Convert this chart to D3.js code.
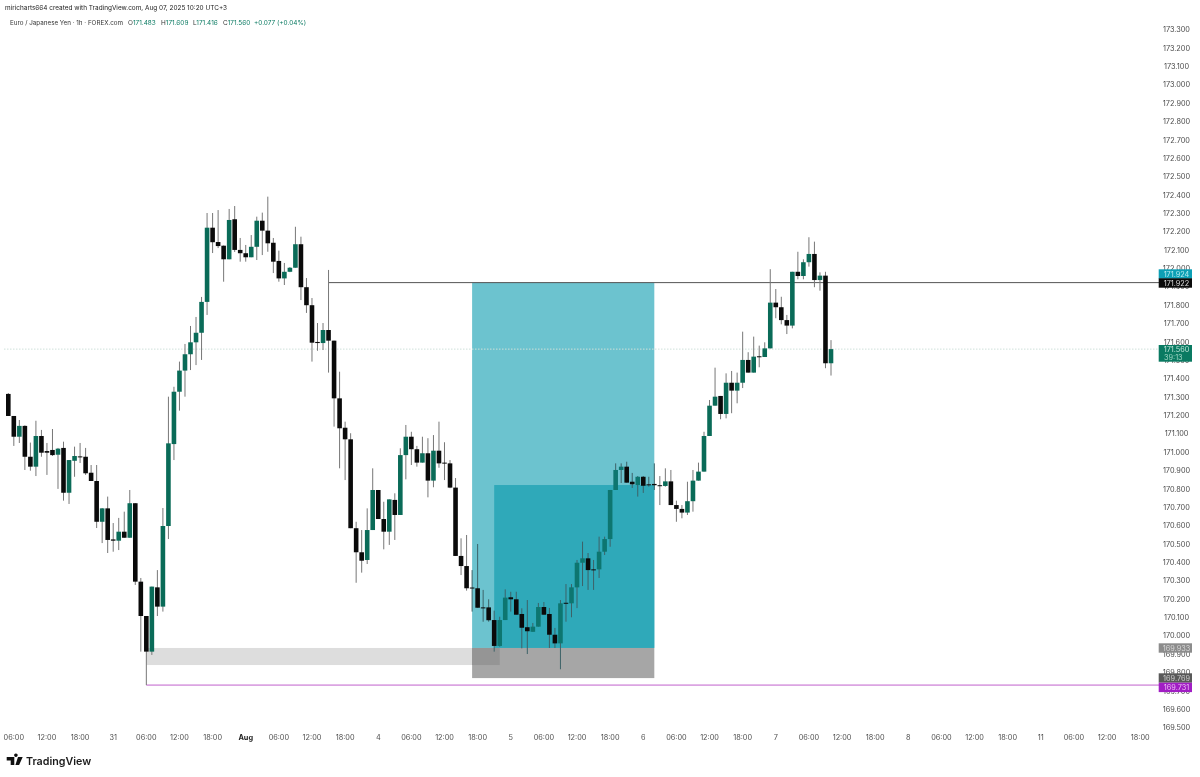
<!DOCTYPE html>
<html><head><meta charset="utf-8">
<script src="https://cdn.jsdelivr.net/npm/d3@7"></script>
<style>html,body{margin:0;background:#fff}svg{display:block;filter:blur(0.4px)}text{font-family:Inter,"Liberation Sans",sans-serif}</style>
</head><body><svg id="c" width="1200" height="777"></svg>
<script>
const opens=[171.316,171.196,171.083,171.142,170.974,170.920,171.087,171.005,171.011,170.985,
171.022,170.778,170.952,170.976,170.974,170.887,170.842,170.620,170.693,170.524,
170.517,170.566,170.533,170.721,170.294,170.107,169.913,170.263,170.158,170.597,
171.043,171.328,171.443,171.532,171.597,171.649,171.817,172.221,172.143,172.123,
172.049,172.267,172.100,172.082,172.060,172.117,172.259,172.205,172.139,172.040,
171.945,171.981,172.003,172.131,171.897,171.799,171.599,171.593,171.664,171.606,
171.292,171.132,171.069,170.585,170.454,170.412,170.575,170.793,170.635,170.566,
170.739,170.657,170.983,171.083,171.015,170.942,170.993,170.844,171.007,170.942,
170.938,170.806,170.434,170.379,170.262,170.258,170.154,170.154,170.085,169.944,
170.085,170.209,170.198,170.118,170.046,170.021,170.049,170.156,170.118,170.005,
169.958,170.179,170.176,170.263,170.397,170.421,170.361,170.361,170.457,170.526,
170.793,170.902,170.920,170.838,170.820,170.865,170.824,170.826,170.819,170.815,
170.840,170.711,170.690,170.670,170.732,170.844,170.893,171.087,171.252,171.305,
171.207,171.377,171.334,171.377,171.501,171.432,171.521,171.517,171.564,171.813,
171.788,171.718,171.688,171.981,171.958,172.033,172.078,171.936,171.960,171.483];
const highs=[171.321,171.196,171.174,171.145,171.051,171.170,171.120,171.049,171.125,171.022,
171.056,170.956,171.029,171.049,171.022,170.929,170.929,170.695,170.757,170.613,
170.641,170.675,170.793,170.722,170.314,170.107,170.267,170.357,170.695,171.301,
171.355,171.492,171.588,171.686,171.735,171.844,172.301,172.301,172.317,172.124,
172.323,172.339,172.165,172.127,172.181,172.281,172.303,172.390,172.165,172.096,
172.029,172.007,172.226,172.172,171.947,171.838,171.702,171.702,171.991,171.606,
171.437,171.165,171.102,170.620,170.575,170.693,170.911,170.793,170.729,170.742,
170.775,171.020,171.147,171.110,171.033,171.083,171.075,171.092,171.165,171.053,
170.956,170.858,170.530,170.548,170.357,170.499,170.249,170.198,170.136,170.103,
170.252,170.239,170.239,170.149,170.194,170.069,170.178,170.183,170.151,170.042,
170.194,170.281,170.281,170.412,170.512,170.450,170.412,170.539,170.539,170.793,
170.938,170.938,170.947,170.886,170.869,170.869,170.865,170.938,170.869,170.911,
170.902,170.735,170.711,170.838,170.902,170.942,171.110,171.283,171.459,171.305,
171.428,171.441,171.432,171.655,171.543,171.628,171.579,171.597,171.995,171.887,
171.845,171.746,171.981,172.090,172.049,172.169,172.145,171.978,171.981,171.609];
const lows=[171.196,171.033,171.049,170.902,170.898,170.869,170.974,170.875,170.978,170.799,
170.735,170.717,170.865,170.940,170.875,170.842,170.586,170.504,170.450,170.457,
170.466,170.533,170.533,170.276,169.913,169.913,169.895,170.107,170.131,170.526,
170.956,171.225,171.301,171.446,171.473,171.501,171.746,172.083,172.110,171.927,
172.049,172.089,172.036,172.036,172.060,172.045,172.072,172.090,171.974,171.927,
171.909,171.979,172.003,171.827,171.757,171.492,171.551,171.555,171.432,171.138,
170.911,170.847,170.585,170.288,170.343,170.390,170.575,170.635,170.470,170.494,
170.521,170.657,170.851,170.929,170.920,170.942,170.753,170.808,170.914,170.847,
170.803,170.434,170.330,170.245,170.131,170.152,170.076,170.076,169.913,169.940,
170.085,170.131,170.114,169.931,169.900,170.021,170.049,170.114,169.933,169.933,
169.817,170.076,170.100,170.150,170.270,170.249,170.249,170.314,170.439,170.484,
170.793,170.831,170.833,170.804,170.757,170.777,170.811,170.793,170.711,170.811,
170.711,170.620,170.639,170.657,170.675,170.844,170.893,171.087,171.252,171.178,
171.183,171.211,171.265,171.348,171.432,171.432,171.461,171.517,171.564,171.728,
171.695,171.642,171.673,171.940,171.940,172.009,171.897,171.878,171.456,171.416];
const closes=[171.196,171.083,171.142,170.974,170.920,171.087,170.996,170.996,170.983,171.018,
170.778,170.956,170.978,170.973,170.884,170.842,170.620,170.693,170.521,170.517,
170.566,170.533,170.721,170.294,170.107,169.913,170.267,170.158,170.597,171.047,
171.328,171.443,171.532,171.597,171.649,171.817,172.221,172.142,172.121,172.049,
172.263,172.100,172.082,172.060,172.117,172.259,172.205,172.136,172.036,171.945,
171.981,172.003,172.131,171.897,171.799,171.595,171.593,171.664,171.606,171.292,
171.129,171.069,170.585,170.454,170.408,170.575,170.793,170.635,170.566,170.742,
170.657,170.983,171.083,171.015,170.942,170.993,170.844,171.007,170.938,170.938,
170.806,170.434,170.379,170.258,170.258,170.152,170.150,170.084,169.944,170.085,
170.207,170.198,170.114,170.043,170.024,170.049,170.156,170.114,170.005,169.958,
170.176,170.176,170.263,170.397,170.421,170.357,170.357,170.457,170.526,170.793,
170.902,170.920,170.833,170.824,170.865,170.816,170.820,170.819,170.815,170.840,
170.711,170.690,170.670,170.732,170.844,170.893,171.087,171.252,171.301,171.207,
171.377,171.334,171.377,171.501,171.432,171.519,171.517,171.564,171.813,171.788,
171.718,171.688,171.981,171.958,172.033,172.078,171.936,171.960,171.483,171.560];

const priceTicks=d3.range(38+1).map(i=>+(169.5+i*0.1).toFixed(1));
const timeLabels=["06:00","12:00","18:00","31","06:00","12:00","18:00","Aug","06:00","12:00","18:00","4","06:00","12:00","18:00","5","06:00","12:00","18:00","6","06:00","12:00","18:00","7","06:00","12:00","18:00","8","06:00","12:00","18:00","11","06:00","12:00","18:00"];
const timeIndex=timeLabels.map((_,i)=>1+6*i);

const priceTags=[
 {price:171.924,text:"171.924",fill:"#0d9fb5",color:"#b5eaf0"},
 {price:171.922,text:"171.922",fill:"#0b0b0b",color:"#dddddd"},
 {price:169.933,text:"169.933",fill:"#8c8c8c",color:"#d8d8d8"},
 {price:169.769,text:"169.769",fill:"#595959",color:"#cfcfcf"},
 {price:169.731,text:"169.731",fill:"#a11ec4",color:"#eebcf5"}];
const tagTops=[269.3,278.3,643.3,673.3,682.7];

const W=1200,H=777;
const x=d3.scaleLinear().domain([0,149]).range([8.3,831]);
const y=d3.scaleLinear().domain([169.5,173.3]).range([727.5,29.5]);
const svg=d3.select("#c");
const GREEN="#0a6b58",BLACK="#0a0a0a";
const AXFONT=7.3;

const zones=[
 {a:84,b:117,top:171.922,bot:169.933,fill:"#6cc3cf"},
 {a:88,b:117,top:170.820,bot:169.933,fill:"#2fa9b9"},
 {a:25,b:84,top:169.933,bot:169.840,fill:"#dddddd"},
 {a:84,b:117,top:169.933,bot:169.769,fill:"#a6a6a6"},
 {a:84,b:89,top:169.933,bot:169.840,fill:"#959595"}];
svg.append("g").selectAll("rect").data(zones).join("rect")
 .attr("x",d=>x(d.a)).attr("width",d=>x(d.b)-x(d.a))
 .attr("y",d=>y(d.top)).attr("height",d=>y(d.bot)-y(d.top)).attr("fill",d=>d.fill);

svg.append("line").attr("x1",4).attr("x2",1159).attr("y1",y(171.560)).attr("y2",y(171.560))
 .attr("stroke","#cfe0da").attr("stroke-dasharray","1.5 1.5").attr("stroke-width",1);

svg.append("line").attr("x1",x(58)).attr("x2",1159).attr("y1",y(171.922)).attr("y2",y(171.922)).attr("stroke","#555").attr("stroke-width",1);
svg.append("line").attr("x1",x(25)).attr("x2",1159).attr("y1",y(169.731)).attr("y2",y(169.731)).attr("stroke","#c060cc").attr("stroke-width",1);
svg.append("line").attr("x1",x(25)).attr("x2",x(25)).attr("y1",y(169.913)).attr("y2",y(169.731)).attr("stroke","#777").attr("stroke-width",1);

const idx=d3.range(opens.length);
const col=i=>closes[i]>=opens[i]?GREEN:BLACK;
svg.append("g").selectAll("line").data(idx).join("line")
 .attr("x1",i=>x(i)).attr("x2",i=>x(i)).attr("y1",i=>y(highs[i])).attr("y2",i=>y(lows[i]))
 .attr("stroke",i=>(i>=84&&i<=117)?"#3d6268":"#777").attr("stroke-width",1);
svg.append("g").selectAll("rect").data(idx).join("rect")
 .attr("x",i=>x(i)-2.3).attr("width",4.6)
 .attr("y",i=>y(Math.max(opens[i],closes[i])))
 .attr("height",i=>Math.max(1,Math.abs(y(opens[i])-y(closes[i]))))
 .attr("fill",i=>(i>=84&&i<=117&&closes[i]>=opens[i])?"#0d7670":col(i));

const pa=svg.append("g").attr("font-size",AXFONT).attr("fill","#4a4a4a");
pa.selectAll("text").data(priceTicks).join("text")
 .attr("x",1176.5).attr("y",d=>y(d)+2.8).attr("text-anchor","middle").text(d=>d.toFixed(3));

const ta=svg.append("g").attr("font-size",AXFONT);
ta.selectAll("text").data(timeIndex).join("text")
 .attr("x",d=>x(d)).attr("y",740.3).attr("text-anchor","middle")
 .attr("font-weight",(d,i)=>timeLabels[i]==="Aug"?700:400)
 .attr("fill",(d,i)=>timeLabels[i]==="Aug"?"#222":"#4f4f4f")
 .text((d,i)=>timeLabels[i]);

const tg=svg.append("g").selectAll("g").data(priceTags).join("g");
tg.append("rect").attr("x",1158.7).attr("width",33.3).attr("y",(d,i)=>tagTops[i]).attr("height",9.4).attr("fill",d=>d.fill);
tg.append("text").attr("x",1176.5).attr("y",(d,i)=>tagTops[i]+7.3).attr("text-anchor","middle").attr("font-size",AXFONT).attr("fill",d=>d.color).text(d=>d.text);
svg.append("rect").attr("x",1158.7).attr("width",33.3).attr("y",345).attr("height",16.7).attr("fill","#0a7a62");
svg.append("text").attr("x",1176.5).attr("y",352.3).attr("text-anchor","middle").attr("font-size",AXFONT).attr("fill","#bfe5d8").text("171.560");
svg.append("text").attr("x",1164).attr("y",359.8).attr("font-size",AXFONT).attr("fill","#9fd6c4").text("39:13");

svg.append("text").attr("x",5).attr("y",10).attr("font-size",6.45).attr("fill","#222").text("mirichart\u200Bs664 created with TradingView.com, Aug 07, 2025 10:20 UTC+3");
const hd=svg.append("text").attr("y",25).attr("font-size",6.45).attr("fill","#333");
hd.append("tspan").attr("x",10).attr("font-size",6.28).text("Euro / Japanese Yen \u00B7 1h \u00B7 FOREX.com");
[["O","171.483",128],["H","171.609",161],["L","171.416",193],["C","171.560",223]].forEach(([k,v,px])=>{
  hd.append("tspan").attr("x",px).text(k);
  hd.append("tspan").attr("fill","#0a7a62").text(v);
});
hd.append("tspan").attr("x",254).attr("fill","#0a7a62").text("+0.077 (+0.04%)");

svg.append("path").attr("fill","#111")
 .attr("d","M6.7 757h7.6v8h-3.6v-4.6H6.7z M15.9 757a1.8 1.8 0 1 1 0.01 0z M18 757h4.7l-3.6 8h-3.7z");
svg.append("text").attr("x",26).attr("y",765).attr("font-size",10.7).attr("font-weight",600).attr("fill","#1a1a1a").text("TradingView");
</script></body></html>
